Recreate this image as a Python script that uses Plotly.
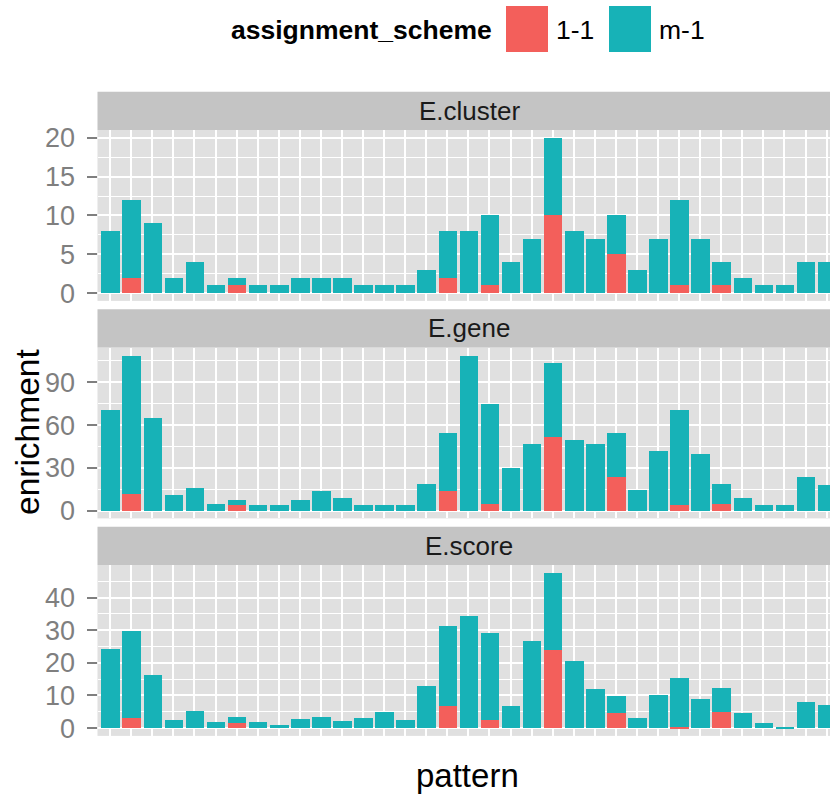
import plotly.graph_objects as go

# ---- data ----
patterns = list(range(1, 36))
facets = ["E.cluster", "E.gene", "E.score"]

# 1-1 (red, bottom) and total height per bar
cluster_11 = [0, 2, 0, 0, 0, 0, 1, 0, 0, 0, 0, 0, 0, 0, 0, 0, 2, 0, 1, 0, 0, 10, 0, 0, 5, 0, 0, 1, 0, 1, 0, 0, 0, 0, 0]
cluster_tot = [8, 12, 9, 2, 4, 1, 2, 1, 1, 2, 2, 2, 1, 1, 1, 3, 8, 8, 10, 4, 7, 20, 8, 7, 10, 3, 7, 12, 7, 4, 2, 1, 1, 4, 4]

gene_11 = [0, 12, 0, 0, 0, 0, 4, 0, 0, 0, 0, 0, 0, 0, 0, 0, 14, 0, 5, 0, 0, 52, 0, 0, 24, 0, 0, 4, 0, 5, 0, 0, 0, 0, 0]
gene_tot = [71, 109, 65, 11, 16, 5, 8, 4, 4, 8, 14, 9, 4, 4, 4, 19, 55, 109, 75, 30, 47, 104, 50, 47, 55, 15, 42, 71, 40, 19, 9, 4, 4, 24, 18]

score_11 = [0, 3.0, 0, 0, 0, 0, 1.5, 0, 0, 0, 0, 0, 0, 0, 0, 0, 6.7, 0, 2.4, 0, 0, 24.0, 0, 0, 4.6, 0, 0, 0.5, 0, 5.0, 0, 0, 0, 0, 0]
score_tot = [24.3, 29.7, 16.3, 2.6, 5.2, 1.8, 3.3, 1.8, 1.1, 2.8, 3.5, 2.1, 3.1, 5.0, 2.6, 12.8, 31.3, 34.4, 29.0, 6.7, 26.7, 47.6, 20.7, 12.0, 9.9, 3.0, 10.2, 15.4, 8.9, 12.2, 4.5, 1.5, 0.3, 8.1, 7.2]

series = {
    "E.cluster": (cluster_11, cluster_tot),
    "E.gene": (gene_11, gene_tot),
    "E.score": (score_11, score_tot),
}
y_ticks = {"E.cluster": [0, 5, 10, 15, 20], "E.gene": [0, 30, 60, 90], "E.score": [0, 10, 20, 30, 40]}
y_minor = {"E.cluster": 2.5, "E.gene": 15, "E.score": 5}

RED = "#F35F5B"
TEAL = "#17B2B7"
W, H = 830, 795
FONT = "Liberation Sans, Arial, Helvetica, sans-serif"

def px_x(p):
    return p / W

def px_y(p):
    return 1 - p / H

# panel geometry (pixels)
panel_left = 97.5
strip_h = 38.3
panel_h = 170.9
gap = 8.3
top0 = 91.7

fig = go.Figure()
shapes = []
annotations = []

for i, name in enumerate(facets):
    s_top = top0 + i * (strip_h + panel_h + gap)
    p_top = s_top + strip_h
    p_bot = p_top + panel_h
    ax = "" if i == 0 else str(i + 1)
    one, tot = series[name]
    other = [round(t - o, 2) for t, o in zip(tot, one)]
    mx = max(tot)
    fig.add_trace(go.Bar(x=patterns, y=one, name="1-1", marker=dict(color=RED, line=dict(width=0)),
                         width=0.88, xaxis="x" + ax, yaxis="y" + ax, showlegend=False))
    fig.add_trace(go.Bar(x=patterns, y=other, name="m-1", marker=dict(color=TEAL, line=dict(width=0)),
                         width=0.88, xaxis="x" + ax, yaxis="y" + ax, showlegend=False))
    fig.update_layout(**{
        "xaxis" + ax: dict(domain=[px_x(panel_left), 1], range=[0.4, 35.16], tickvals=patterns,
                            showticklabels=False, ticks="", showgrid=True, gridcolor="white", gridwidth=2,
                            zeroline=False, showline=False, anchor="y" + ax, automargin=False),
        "yaxis" + ax: dict(domain=[px_y(p_bot), px_y(p_top)], range=[-0.05 * mx, 1.05 * mx],
                            tickvals=y_ticks[name], ticks="outside", ticklen=10, tickwidth=2,
                            tickcolor="#7F7F7F", ticklabelstandoff=6,
                            tickfont=dict(size=27, color="#7F7F7F", family=FONT),
                            showgrid=True, gridcolor="white", gridwidth=2, zeroline=False,
                            minor=dict(dtick=y_minor[name], tick0=0, showgrid=True, gridcolor="white", gridwidth=0.8, ticks=""),
                            anchor="x" + ax, automargin=False),
    })
    # strip
    shapes.append(dict(type="rect", xref="paper", yref="paper", x0=px_x(panel_left), x1=1,
                       y0=px_y(p_top), y1=px_y(s_top), fillcolor="#C4C4C4", line=dict(width=0), layer="below"))
    annotations.append(dict(text=name, xref="paper", yref="paper", x=px_x(469), y=px_y(s_top + strip_h / 2),
                            showarrow=False, font=dict(size=26, color="#1A1A1A", family=FONT),
                            xanchor="center", yanchor="middle"))

# axis titles
annotations.append(dict(text="enrichment", xref="paper", yref="paper", x=px_x(27), y=px_y(432), textangle=-90,
                        showarrow=False, font=dict(size=33.5, color="black", family=FONT), xanchor="center", yanchor="middle"))
annotations.append(dict(text="pattern", xref="paper", yref="paper", x=px_x(467), y=px_y(775),
                        showarrow=False, font=dict(size=33, color="black", family=FONT), xanchor="center", yanchor="middle"))

# legend (top)
annotations.append(dict(text="<b>assignment_scheme</b>", xref="paper", yref="paper", x=px_x(494), y=px_y(30),
                        showarrow=False, font=dict(size=26.5, color="black", family=FONT), xanchor="right", yanchor="middle"))
for x0, col, lab in [(506, RED, "1-1"), (609, TEAL, "m-1")]:
    shapes.append(dict(type="rect", xref="paper", yref="paper", x0=px_x(x0), x1=px_x(x0 + 42),
                       y0=px_y(52), y1=px_y(6), fillcolor=col, line=dict(width=0)))
    annotations.append(dict(text=lab, xref="paper", yref="paper", x=px_x(x0 + 48), y=px_y(30),
                            showarrow=False, font=dict(size=26.5, color="black", family=FONT), xanchor="left", yanchor="middle"))

fig.update_layout(width=W, height=H, margin=dict(l=0, r=0, t=0, b=0, autoexpand=False), barmode="stack", bargap=0,
                  plot_bgcolor="#E0E0E0", paper_bgcolor="white", shapes=shapes, annotations=annotations,
                  showlegend=False, font=dict(family=FONT))

fig.write_html("out.html", config={"displayModeBar": False},
               post_script="document.body.style.margin='0';document.body.style.overflow='hidden';")
